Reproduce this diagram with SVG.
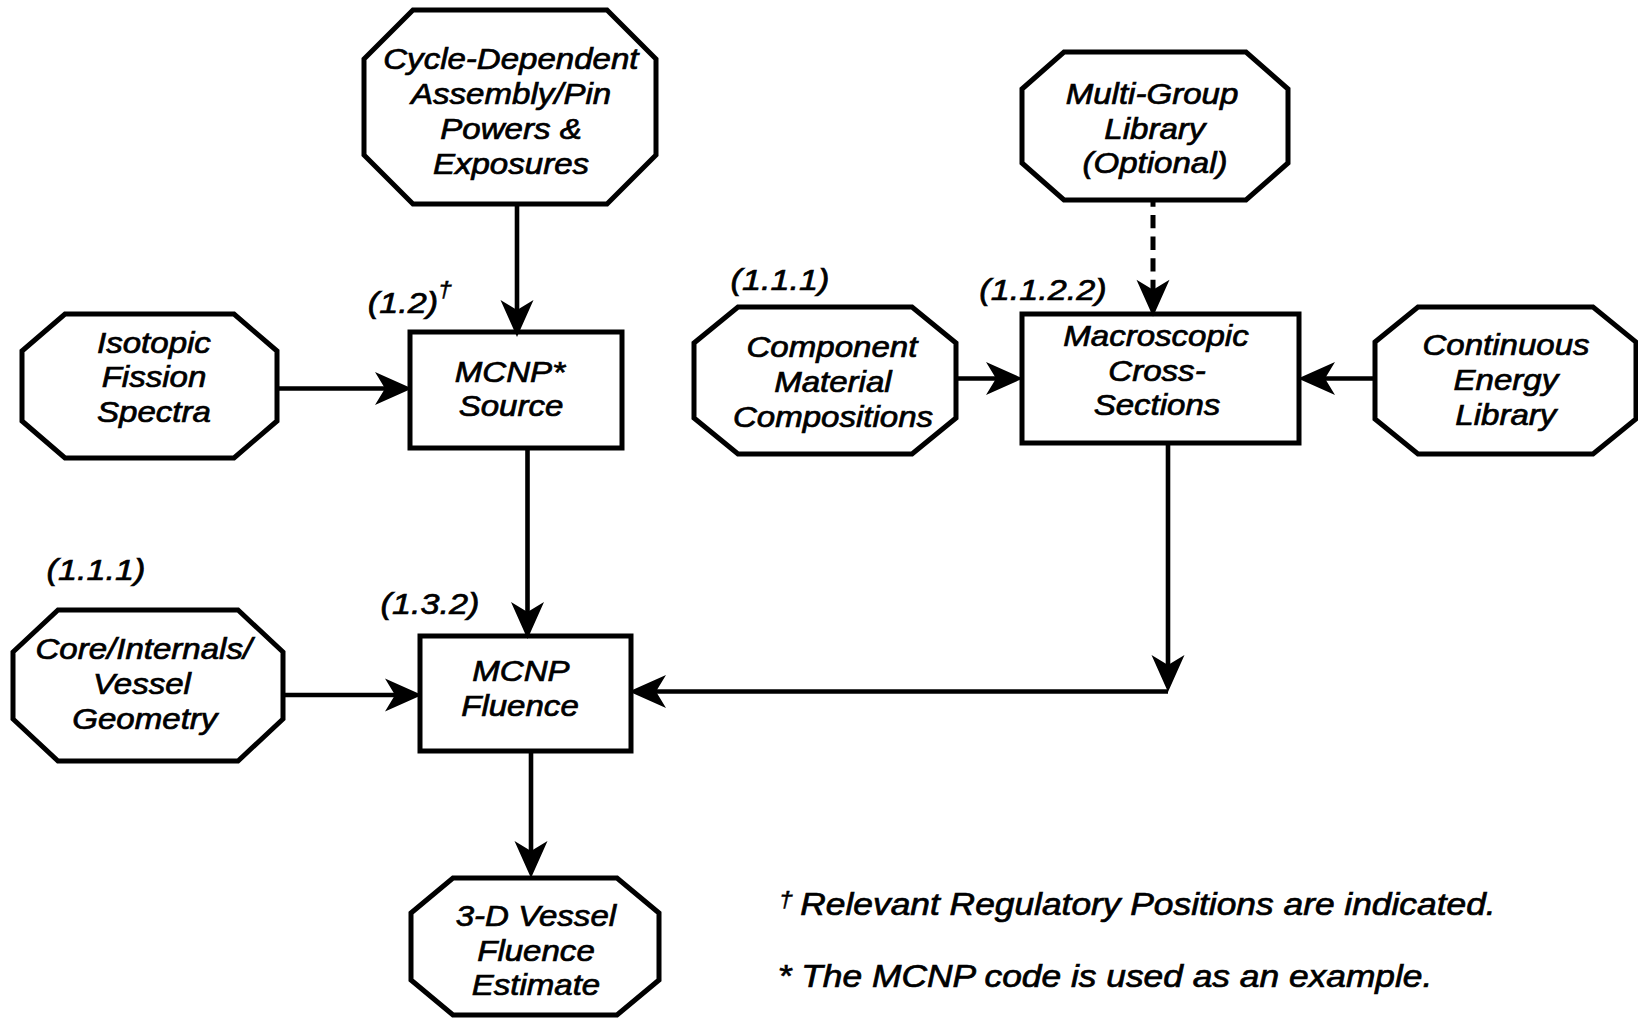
<svg xmlns="http://www.w3.org/2000/svg" width="1638" height="1019" viewBox="0 0 1638 1019">
<style>
.shape{fill:#fff;stroke:#000;stroke-width:5;stroke-linejoin:miter}
.conn{fill:none;stroke:#000;stroke-width:4.6}
.dash{stroke-width:5;stroke-dasharray:13.3 8.3;stroke-dashoffset:8.6}
text{font-family:"Liberation Sans",Arial,Helvetica,sans-serif;font-style:italic;fill:#000;stroke:#000;stroke-width:0.7px;text-anchor:middle;transform-box:fill-box;transform-origin:center;transform:scaleX(1.14)}
.n{font-size:29px}
.l{font-size:30px}
.f{font-size:31px}
.s{font-size:22px;stroke-width:0.4px}
</style>
<defs>
<marker id="ah" viewBox="-40 -19 42 38" markerWidth="42" markerHeight="38" refX="-15" refY="0" orient="auto" markerUnits="userSpaceOnUse">
<path d="M0,0 L-37,-16.5 L-27,0 L-37,16.5 Z" fill="#000"/>
</marker>
</defs>
<rect width="1638" height="1019" fill="#fff"/>

<g id="node-cycle">
<polygon class="shape" points="413,10 607,10 656,59 656,155 607,204 413,204 364,155 364,59"/>
<text class="n" x="511" y="69">Cycle-Dependent</text>
<text class="n" x="511" y="104">Assembly/Pin</text>
<text class="n" x="511" y="139">Powers &amp;</text>
<text class="n" x="511" y="174">Exposures</text>
</g>

<g id="node-isotopic">
<polygon class="shape" points="65,314 234,314 277,351 277,421 234,458 65,458 22,421 22,351"/>
<text class="n" x="154" y="353">Isotopic</text>
<text class="n" x="154" y="387">Fission</text>
<text class="n" x="154" y="422">Spectra</text>
</g>

<g id="node-source">
<rect class="shape" x="410" y="332" width="212" height="116"/>
<text class="n" x="510" y="382">MCNP*</text>
<text class="n" x="511" y="416">Source</text>
</g>
<g id="label-12">
<text class="l" x="403" y="313">(1.2)</text>
<text class="s" x="445" y="297">†</text>
</g>

<g id="node-core">
<polygon class="shape" points="58,610 238,610 283,652 283,719 238,761 58,761 13,719 13,652"/>
<text class="n" x="144" y="659">Core/Internals/</text>
<text class="n" x="142" y="694">Vessel</text>
<text class="n" x="145" y="729">Geometry</text>
</g>
<g id="label-111-left">
<text class="l" x="96" y="580">(1.1.1)</text>
</g>

<g id="node-fluence">
<rect class="shape" x="420" y="636" width="211" height="115"/>
<text class="n" x="521" y="681">MCNP</text>
<text class="n" x="520" y="716">Fluence</text>
</g>
<g id="label-132">
<text class="l" x="430" y="614">(1.3.2)</text>
</g>

<g id="node-vessel">
<polygon class="shape" points="453,878 617,878 659,913 659,980 617,1015 453,1015 411,980 411,913"/>
<text class="n" x="536" y="926">3-D Vessel</text>
<text class="n" x="536" y="961">Fluence</text>
<text class="n" x="536" y="995">Estimate</text>
</g>

<g id="node-multigroup">
<polygon class="shape" points="1064,52 1246,52 1288,89 1288,163 1246,200 1064,200 1022,163 1022,89"/>
<text class="n" x="1152" y="104">Multi-Group</text>
<text class="n" x="1155" y="139">Library</text>
<text class="n" x="1155" y="173">(Optional)</text>
</g>

<g id="node-component">
<polygon class="shape" points="738,307 912,307 956,343 956,418 912,454 738,454 694,418 694,343"/>
<text class="n" x="832" y="357">Component</text>
<text class="n" x="833" y="392">Material</text>
<text class="n" x="833" y="427">Compositions</text>
</g>
<g id="label-111-right">
<text class="l" x="780" y="290">(1.1.1)</text>
</g>

<g id="node-macroscopic">
<rect class="shape" x="1022" y="314" width="277" height="129"/>
<text class="n" x="1156" y="346">Macroscopic</text>
<text class="n" x="1157" y="381">Cross-</text>
<text class="n" x="1157" y="415">Sections</text>
</g>
<g id="label-1122">
<text class="l" x="1043" y="300">(1.1.2.2)</text>
</g>

<g id="node-continuous">
<polygon class="shape" points="1418,307 1593,307 1636,342 1636,419 1593,454 1418,454 1375,419 1375,342"/>
<text class="n" x="1506" y="355">Continuous</text>
<text class="n" x="1506" y="390">Energy</text>
<text class="n" x="1506" y="425">Library</text>
</g>

<g id="connectors">
<path class="conn" d="M517,204 L517,322" marker-end="url(#ah)"/>
<path class="conn" d="M277,388.5 L397,388.5" marker-end="url(#ah)"/>
<path class="conn" d="M527.5,448 L527.5,624" marker-end="url(#ah)"/>
<path class="conn" d="M283,695 L407,695" marker-end="url(#ah)"/>
<path class="conn" d="M1168,443 L1168,677" marker-end="url(#ah)"/>
<path class="conn" d="M1168,691.5 L644,691.5" marker-end="url(#ah)"/>
<path class="conn" d="M531,751 L531,863" marker-end="url(#ah)"/>
<path class="conn dash" d="M1153,202 L1153,301.7" marker-end="url(#ah)"/>
<path class="conn" d="M956,378.5 L1008,378.5" marker-end="url(#ah)"/>
<path class="conn" d="M1375,378.5 L1313,378.5" marker-end="url(#ah)"/>
</g>

<g id="footnotes">
<text class="s" x="786" y="907">†</text>
<text class="f" x="1148" y="915">Relevant Regulatory Positions are indicated.</text>
<text class="f" x="1105" y="987">* The MCNP code is used as an example.</text>
</g>
</svg>
